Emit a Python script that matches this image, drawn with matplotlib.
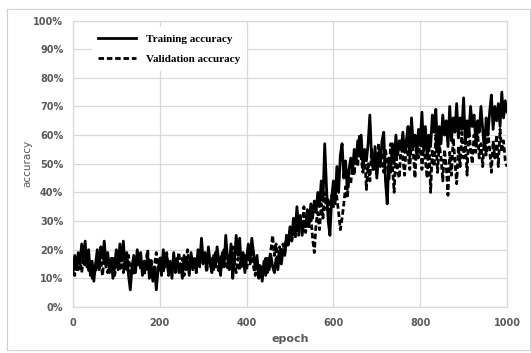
import numpy as np
import matplotlib
matplotlib.use("Agg")
import matplotlib.pyplot as plt
from matplotlib.patches import Rectangle
from matplotlib.ticker import PercentFormatter, MultipleLocator

# accuracy (%) sampled every 4 epochs, 0..1000
epochs = np.arange(0, 1001, 4)

train_acc = [
    12, 18, 13, 19, 15, 22, 17, 23, 14, 20,
    11, 16, 9, 15, 20, 13, 21, 17, 23, 15,
    19, 12, 17, 10, 15, 20, 13, 22, 16, 23,
    14, 19, 11, 6, 14, 18, 12, 20, 15, 19,
    11, 16, 13, 18, 10, 15, 9, 14, 6, 13,
    17, 11, 20, 14, 18, 12, 16, 10, 19, 13,
    17, 12, 15, 10, 18, 13, 16, 11, 19, 14,
    17, 12, 20, 15, 24, 16, 19, 13, 21, 15,
    12, 18, 14, 21, 16, 11, 19, 14, 25, 17,
    13, 22, 10, 16, 25, 18, 24, 14, 19, 12,
    17, 22, 16, 24, 19, 13, 18, 10, 14, 9,
    16, 11, 17, 13, 18, 14, 12, 17, 13, 19,
    15, 20, 18, 25, 22, 28, 24, 31, 26, 35,
    27, 32, 25, 30, 28, 34, 29, 36, 31, 37,
    33, 40, 35, 44, 37, 57, 42, 30, 25, 38,
    44, 36, 49, 40, 53, 57, 45, 51, 41, 48,
    52, 47, 55, 50, 58, 53, 60, 49, 55, 51,
    57, 67, 52, 48, 56, 45, 54, 49, 58, 61,
    44, 36, 52, 47, 57, 50, 60, 53, 58, 55,
    61, 54, 58, 63, 52, 66, 56, 60, 53, 62,
    57, 68, 55, 63, 52, 60, 56, 67, 61, 69,
    54, 63, 57, 67, 60, 65, 56, 70, 58, 66,
    61, 71, 59, 66, 62, 73, 57, 65, 60, 70,
    63, 67, 58, 65, 61, 70, 62, 55, 66, 60,
    68, 74, 62, 70, 65, 71, 63, 75, 66, 72,
    68,
]

val_acc = [
    15, 11, 16, 13, 18, 12, 17, 14, 19, 12,
    14, 10, 15, 12, 17, 13, 16, 11, 18, 14,
    12, 16, 13, 17, 11, 15, 19, 13, 17, 12,
    16, 13, 18, 12, 15, 11, 17, 14, 19, 13,
    15, 11, 16, 20, 13, 17, 10, 15, 19, 12,
    14, 18, 12, 16, 19, 11, 15, 13, 17, 12,
    15, 19, 13, 17, 11, 16, 20, 14, 18, 13,
    16, 12, 18, 14, 20, 15, 17, 12, 19, 14,
    17, 13, 19, 15, 12, 18, 14, 20, 16, 13,
    18, 14, 21, 15, 12, 17, 13, 19, 15, 18,
    13, 17, 15, 19, 14, 11, 16, 13, 15, 12,
    14, 17, 12, 16, 20, 25, 18, 22, 15, 21,
    17, 22, 19, 25, 21, 27, 23, 26, 24, 29,
    25, 31, 27, 35, 26, 30, 28, 32, 24, 19,
    29, 33, 27, 36, 31, 40, 34, 38, 32, 39,
    35, 42, 38, 33, 27, 31, 36, 42, 38, 45,
    43, 50, 46, 55, 49, 60, 52, 47, 54, 41,
    50, 44, 55, 48, 52, 46, 57, 51, 54, 47,
    55, 50, 44, 57, 49, 40, 55, 47, 45, 58,
    52, 46, 57, 53, 48, 59, 54, 45, 58, 52,
    60, 48, 56, 51, 45, 58, 40, 55, 49, 60,
    47, 57, 52, 44, 55, 49, 39, 54, 46, 59,
    51, 43, 56, 49, 61, 52, 58, 46, 63, 55,
    50, 60, 54, 62, 52, 57, 49, 59, 53, 61,
    55, 47, 58, 52, 60, 49, 62, 54, 58, 51,
    49,
]

x_ticks = [0, 200, 400, 600, 800, 1000]

grid_col = "#d9d9d9"
text_col = "#595959"

fig = plt.figure(figsize=(5.31, 3.53), dpi=100)
fig.patch.set_facecolor("white")

# light outer chart frame
fig.patches.append(Rectangle((7 / 531, 3 / 353), 523 / 531, 341 / 353,
                             transform=fig.transFigure, fill=False,
                             edgecolor="#d0d0d0", linewidth=0.8))

ax = fig.add_axes([73 / 531, 1 - 307 / 353, 434 / 531, 286.5 / 353])

ax.plot(epochs, train_acc, color="black", linewidth=2.0,
        label="Training accuracy", zorder=3)
ax.plot(epochs, val_acc, color="black", linewidth=2.0,
        dashes=(2.0, 1.0), label="Validation accuracy", zorder=3)

ax.set_xlim(0, 1000)
ax.set_ylim(0, 100)
ax.set_xticks(x_ticks)
ax.yaxis.set_major_locator(MultipleLocator(10))
ax.yaxis.set_major_formatter(PercentFormatter(decimals=0))

ax.grid(True, color=grid_col, linewidth=0.9, zorder=0)
for s in ax.spines.values():
    s.set_color(grid_col)
    s.set_linewidth(0.9)

ax.tick_params(length=0, labelsize=7, labelcolor=text_col)
ax.tick_params(axis="y", pad=7)
ax.tick_params(axis="x", pad=8)
for lab in ax.get_xticklabels() + ax.get_yticklabels():
    lab.set_fontweight("bold")

ax.set_xlabel("epoch", fontsize=8, color=text_col, fontweight="bold", labelpad=4)
ax.set_ylabel("accuracy", fontsize=7.5, color=text_col, labelpad=0.5)

leg = ax.legend(loc="upper left", bbox_to_anchor=(0.03, 0.995),
                prop={"family": "Liberation Serif", "weight": "bold", "size": 8},
                frameon=True, fancybox=False, handlelength=3.4,
                handletextpad=0.9, labelspacing=0.95, borderpad=0.6)
leg.get_frame().set_facecolor("white")
leg.get_frame().set_edgecolor("none")
leg.get_frame().set_alpha(1.0)
leg.set_zorder(5)

fig.savefig("out.png", dpi=100, facecolor="white")
